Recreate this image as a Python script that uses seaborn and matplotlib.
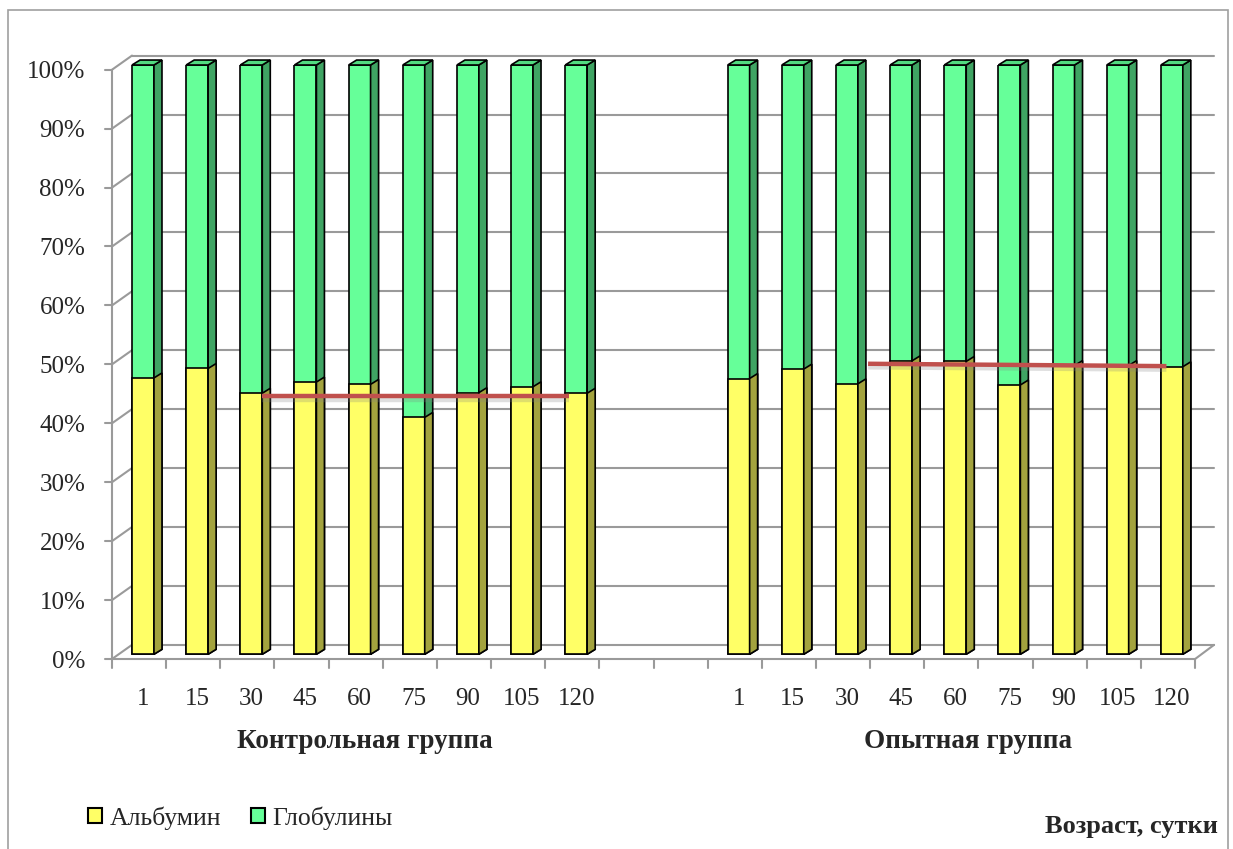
import numpy as np
import pandas as pd
import matplotlib
matplotlib.use("Agg")
import matplotlib.pyplot as plt
import seaborn as sns
from matplotlib.patches import Polygon, Patch, Rectangle

# data (% of total protein)
days = ['1', '15', '30', '45', '60', '75', '90', '105', '120']
albumin_control = [46.9, 48.5, 44.3, 46.2, 45.8, 40.2, 44.4, 45.4, 44.3]
albumin_exp = [46.8, 48.4, 45.9, 49.8, 49.7, 45.7, 49.0, 49.0, 48.8]
# red level lines (category position, %)
ctrl_line_x = [2.2, 7.87]
ctrl_line_y = [43.8, 43.8]
exp_line_x = [13.39, 18.9]
exp_line_y = [49.3, 48.9]

groups = ['Контрольная группа', 'Опытная группа']
series = ['Альбумин', 'Глобулины']

keys_c = ['c' + d for d in days]
keys_e = ['e' + d for d in days]
order = keys_c + ['gap1', 'gap2'] + keys_e
df = pd.DataFrame({'key': keys_c + keys_e,
                   'alb': albumin_control + albumin_exp})
df['total'] = 100.0

yellow, yellow_side = '#FFFF66', '#A3A33E'
green, green_side, green_top = '#66FF99', '#3FA463', '#52DB80'
grid_c = '#9A9A9A'

sns.set_theme(style='white')
plt.rcParams['font.family'] = ['Liberation Serif', 'DejaVu Serif']

W, H = 1233, 849
fig = plt.figure(figsize=(W / 100, H / 100), dpi=100)
ax = fig.add_axes([115.9 / W, 1 - 659 / H, 1083 / W, 594 / H])
ax.set_xlim(-0.5, 19.5)
ax.set_ylim(0, 100)

# 3d geometry (data units)
dx, dy = 0.148, 0.84          # bar depth
x0f, x1f, dyf = -0.572, 19.43, -0.8   # front plane
x0b, x1b, dyb = -0.203, 19.78, 1.6    # back wall

# back wall grid
for v in range(0, 101, 10):
    ax.plot([x0b, x1b], [v + dyb, v + dyb], color=grid_c, lw=1.5, zorder=1, clip_on=False)
    ax.plot([x0f, x0b], [v + dyf, v + dyb], color=grid_c, lw=1.5, zorder=1, clip_on=False)
    ax.plot([x0f - 0.13, x0f], [v + dyf, v + dyf], color=grid_c, lw=1.5, zorder=1, clip_on=False)
# floor front edge + right edge + left axis
ax.plot([x0f, x1f], [dyf, dyf], color=grid_c, lw=1.5, zorder=1, clip_on=False)
ax.plot([x1f, x1b], [dyf, dyb], color=grid_c, lw=1.5, zorder=1, clip_on=False)
ax.plot([x0f, x0f], [dyf, 100 + dyf], color=grid_c, lw=1.5, zorder=1, clip_on=False)
for k in range(21):
    ax.plot([x0f + k, x0f + k], [dyf, dyf - 1.5], color=grid_c, lw=1.5, zorder=1, clip_on=False)

# globulin = full 100% bar, albumin drawn over it
sns.barplot(data=df, x='key', y='total', order=order, color=green, saturation=1,
            width=0.406, edgecolor='black', linewidth=1.2, errorbar=None, ax=ax, zorder=3)
for p in ax.containers[0]:
    x, w, h = p.get_x(), p.get_width(), p.get_height()
    ax.add_patch(Polygon([(x + w, 0), (x + w + dx, dy), (x + w + dx, h + dy), (x + w, h)],
                         closed=True, fc=green_side, ec='black', lw=1.2, zorder=3, clip_on=False))
    ax.add_patch(Polygon([(x, h), (x + dx, h + dy), (x + w + dx, h + dy), (x + w, h)],
                         closed=True, fc=green_top, ec='black', lw=1.2, zorder=3, clip_on=False))

sns.barplot(data=df, x='key', y='alb', order=order, color=yellow, saturation=1,
            width=0.406, edgecolor='black', linewidth=1.2, errorbar=None, ax=ax, zorder=4)
for p in ax.containers[1]:
    x, w, h = p.get_x(), p.get_width(), p.get_height()
    ax.add_patch(Polygon([(x + w, 0), (x + w + dx, dy), (x + w + dx, h + dy), (x + w, h)],
                         closed=True, fc=yellow_side, ec='black', lw=1.2, zorder=4, clip_on=False))

# red level lines with a soft shadow
for lx, ly in [(ctrl_line_x, ctrl_line_y), (exp_line_x, exp_line_y)]:
    ax.plot(lx, [v - 0.6 for v in ly], color='#808080', lw=3.2, alpha=0.25, zorder=5,
            solid_capstyle='butt')
    ax.plot(lx, ly, color='#C0504D', lw=3.2, zorder=6, solid_capstyle='butt')

for s in ax.spines.values():
    s.set_visible(False)
ax.set_xlabel('')
ax.set_ylabel('')
ax.set_xticks(range(20))
ax.set_xticklabels(days + ['', ''] + days, fontsize=18)
ax.set_yticks([v + dyf for v in range(0, 101, 10)])
ax.set_yticklabels([f'{v}%' for v in range(0, 101, 10)], fontsize=18)
ax.tick_params(axis='x', length=0, pad=21)
ax.tick_params(axis='y', length=0, pad=22)

fig.text(365 / W, 1 - 742 / H, groups[0], ha='center', va='center', fontsize=19.5, fontweight='bold')
fig.text(968 / W, 1 - 742 / H, groups[1], ha='center', va='center', fontsize=19.5, fontweight='bold')
fig.text(1218 / W, 1 - 826 / H, 'Возраст, сутки', ha='right', va='center', fontsize=19, fontweight='bold')

handles = [Patch(fc=yellow, ec='black', lw=1.5), Patch(fc=green, ec='black', lw=1.5)]
fig.legend(handles, series, loc='center left', bbox_to_anchor=(88 / W, 1 - 818 / H), ncol=2,
           frameon=False, fontsize=18.5, handlelength=0.55, handleheight=0.55,
           handletextpad=0.3, columnspacing=1.15, borderaxespad=0, borderpad=0)

fig.patches.append(Rectangle((8 / W, -0.1), 1220 / W, 1.1 - 10 / H, transform=fig.transFigure,
                             fill=False, ec='#A0A0A0', lw=1.2))

fig.savefig('out.png', dpi=100)
